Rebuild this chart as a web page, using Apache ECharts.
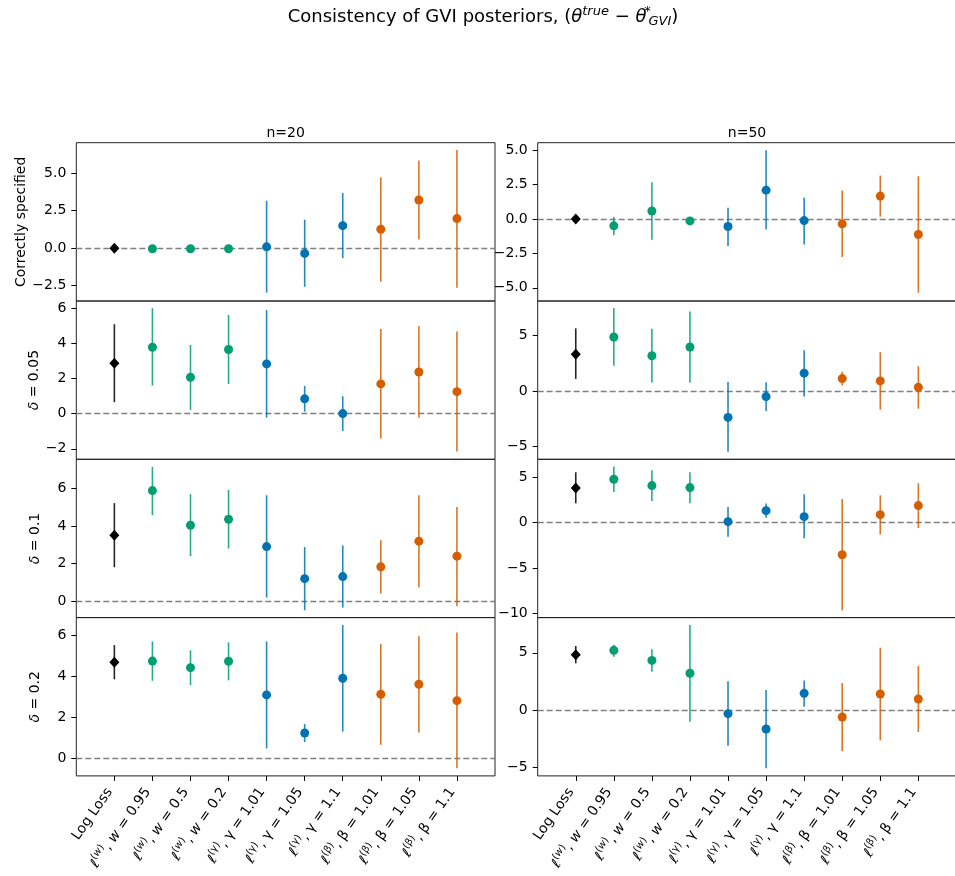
<!DOCTYPE html>
<html><head><meta charset="utf-8">
<script src="https://cdn.jsdelivr.net/npm/echarts@6/dist/echarts.min.js"></script>
<style>html,body{margin:0;padding:0;background:#fff}#c{width:955px;height:876px}</style>
</head><body><div id="c"></div>
<script>
// ---------------- data ----------------
const categories = ['Log Loss','ℓ(w), w = 0.95','ℓ(w), w = 0.5','ℓ(w), w = 0.2','ℓ(γ), γ = 1.01','ℓ(γ), γ = 1.05','ℓ(γ), γ = 1.1','ℓ(β), β = 1.01','ℓ(β), β = 1.05','ℓ(β), β = 1.1'];
const lossFamily = ['log','w','w','w','γ','γ','γ','β','β','β'];
const hyperParam = ['','0.95','0.5','0.2','1.01','1.05','1.1','1.01','1.05','1.1'];
const columnTitles = ['n=20','n=50'];
const rowLabels = ['Correctly specified','δ = 0.05','δ = 0.1','δ = 0.2'];

const n20_correct_est = [0.00,-0.04,-0.04,-0.04, 0.09,-0.35, 1.50, 1.26, 3.21, 1.97];
const n20_correct_lo  = [-0.05,-0.10,-0.10,-0.10,-2.96,-2.57,-0.66,-2.23, 0.58,-2.63];
const n20_correct_hi  = [0.05, 0.02, 0.02, 0.02, 3.16, 1.90, 3.67, 4.73, 5.84, 6.55];

const n50_correct_est = [0.00,-0.50, 0.58,-0.14,-0.55, 2.09,-0.12,-0.36, 1.66,-1.13];
const n50_correct_lo  = [-0.05,-1.18,-1.51,-0.22,-1.97,-0.77,-1.85,-2.76, 0.17,-5.36];
const n50_correct_hi  = [0.05, 0.14, 2.67,-0.06, 0.82, 5.00, 1.54, 2.07, 3.15, 3.10];

const n20_d005_est = [2.87, 3.78, 2.07, 3.65, 2.83, 0.84, 0.00, 1.69, 2.37, 1.25];
const n20_d005_lo  = [0.65, 1.59, 0.21, 1.69,-0.23, 0.11,-0.99,-1.42,-0.23,-2.16];
const n20_d005_hi  = [5.09, 6.00, 3.91, 5.62, 5.89, 1.58, 0.99, 4.82, 4.99, 4.67];

const n50_d005_est = [3.31, 4.85, 3.16, 3.95,-2.38,-0.51, 1.60, 1.11, 0.90, 0.33];
const n50_d005_lo  = [1.08, 2.26, 0.75, 0.75,-5.48,-1.81,-0.51, 0.48,-1.69,-1.60];
const n50_d005_hi  = [5.63, 7.47, 5.60, 7.14, 0.81, 0.78, 3.67, 1.72, 3.49, 2.23];

const n20_d01_est = [3.51, 5.89, 4.04, 4.36, 2.90, 1.19, 1.30, 1.82, 3.19, 2.39];
const n20_d01_lo  = [1.80, 4.58, 2.39, 2.80, 0.18,-0.50,-0.36, 0.39, 0.73,-0.27];
const n20_d01_hi  = [5.22, 7.16, 5.70, 5.93, 5.64, 2.88, 2.96, 3.24, 5.64, 5.02];

const n50_d01_est = [3.82, 4.78, 4.08, 3.86, 0.11, 1.32, 0.66,-3.53, 0.88, 1.88];
const n50_d01_lo  = [2.13, 3.38, 2.39, 2.13,-1.54, 0.55,-1.73,-9.67,-1.29,-0.59];
const n50_d01_hi  = [5.55, 6.18, 5.77, 5.55, 1.73, 2.10, 3.13, 2.61, 3.01, 4.34];

const n20_d02_est = [4.70, 4.76, 4.44, 4.75, 3.11, 1.25, 3.92, 3.14, 3.63, 2.83];
const n20_d02_lo  = [3.87, 3.80, 3.59, 3.82, 0.50, 0.81, 1.32, 0.68, 1.28,-0.47];
const n20_d02_hi  = [5.54, 5.71, 5.28, 5.67, 5.72, 1.69, 6.52, 5.59, 5.97, 6.15];

const n50_d02_est = [4.84, 5.22, 4.34, 3.21,-0.32,-1.66, 1.46,-0.61, 1.40, 0.96];
const n50_d02_lo  = [4.08, 4.66, 3.35,-1.02,-3.12,-5.10, 0.29,-3.59,-2.65,-1.92];
const n50_d02_hi  = [5.60, 5.71, 5.31, 7.43, 2.51, 1.75, 2.59, 2.36, 5.45, 3.85];

// y ticks and limits per panel [row][col]
const yTicks = [
  [[-2.5,0,2.5,5],[-5,-2.5,0,2.5,5]],
  [[-2,0,2,4,6],[-5,0,5]],
  [[0,2,4,6],[-10,-5,0,5]],
  [[0,2,4,6],[-5,0,5]]
];
const yLimits = [
  [[-3.52,7.03],[-5.96,5.54]],
  [[-2.60,6.41],[-6.15,8.09]],
  [[-0.89,7.56],[-10.46,6.98]],
  [[-0.84,6.88],[-5.76,8.08]]
];
const xLimits = [-1, 10];

const panelData = [
  [[n20_correct_est,n20_correct_lo,n20_correct_hi],[n50_correct_est,n50_correct_lo,n50_correct_hi]],
  [[n20_d005_est,n20_d005_lo,n20_d005_hi],[n50_d005_est,n50_d005_lo,n50_d005_hi]],
  [[n20_d01_est,n20_d01_lo,n20_d01_hi],[n50_d01_est,n50_d01_lo,n50_d01_hi]],
  [[n20_d02_est,n20_d02_lo,n20_d02_hi],[n50_d02_est,n50_d02_lo,n50_d02_hi]]
];

// ---------------- layout & style ----------------
const FONT = "'DejaVu Sans', sans-serif";
const COLORS = {log:'#000000', w:'#029E73', 'γ':'#0173B2', 'β':'#D55E00'};
const GL = [76.3, 537.7], GW = 418.7, GT = 142.7, GH = 158.3;

function tickFmt(ticks){
  const dec = ticks.some(t => !Number.isInteger(t)) ? 1 : 0;
  return v => (v < -1e-9 ? '\u2212' : '') + Math.abs(v).toFixed(dec);
}
function catLabel(v){
  const i = Math.round(v);
  if (Math.abs(v - i) > 1e-6 || i < 0 || i >= categories.length) return '';
  const f = lossFamily[i];
  if (f === 'log') return '{n|' + categories[i] + '}';
  const sf = (f === 'w') ? '{si|w}' : '{sp|' + f + '}';
  const mf = (f === 'w') ? '{i|w}' : '{n|' + f + '}';
  return '{n|ℓ}{sp|(}' + sf + '{sp|)}{n|, }' + mf + '{n| = ' + hyperParam[i] + '}';
}
function rowName(s){
  return s.charAt(0) === 'δ' ? '{i|δ}{n|' + s.slice(1) + '}' : '{n|' + s + '}';
}
const xRich = {
  n:{fontSize:14,fontFamily:FONT,color:'#000'},
  i:{fontSize:14,fontFamily:FONT,fontStyle:'italic',color:'#000'},
  sp:{fontSize:10,fontFamily:FONT,color:'#000',padding:[0,0,10,0]},
  si:{fontSize:10,fontFamily:FONT,fontStyle:'italic',color:'#000',padding:[0,0,10,0]}
};

const grids=[], xAxes=[], yAxes=[], series=[];
const catIdx = categories.map((c,i)=>i);
for (let r=0;r<4;r++){
  for (let c=0;c<2;c++){
    const k = grids.length;
    const [est, lo, hi] = panelData[r][c];
    grids.push({left:GL[c], top:GT + r*GH, width:GW, height:GH, show:true,
      borderColor:'#222', borderWidth:1, backgroundColor:'rgba(0,0,0,0)', containLabel:false, outerBoundsMode:'none'});
    xAxes.push({gridIndex:k, type:'value', min:xLimits[0], max:xLimits[1], position:'bottom',
      axisLine:{show:false, onZero:false}, splitLine:{show:false},
      axisTick:{show:r===3, customValues:catIdx, length:5, lineStyle:{color:'#000', width:1}},
      axisLabel:{show:r===3, customValues:catIdx, rotate:55, margin:7, padding:[0,8,0,0], formatter:catLabel, rich:xRich, fontSize:14, fontFamily:FONT, color:'#000'}});
    const yA = {gridIndex:k, type:'value', min:yLimits[r][c][0], max:yLimits[r][c][1], position:'left',
      axisLine:{show:false, onZero:false}, splitLine:{show:false},
      axisTick:{show:true, customValues:yTicks[r][c], length:5, lineStyle:{color:'#000', width:1}},
      axisLabel:{customValues:yTicks[r][c], formatter:tickFmt(yTicks[r][c]), margin:10, fontSize:14, fontFamily:FONT, color:'#000'}};
    if (c===0){
      yA.name = rowName(rowLabels[r]);
      yA.nameLocation = 'middle';
      yA.nameRotate = 90;
      yA.nameGap = r===0 ? 48 : 34;
      yA.nameTextStyle = {fontSize:14, fontFamily:FONT, color:'#000', rich:{
        n:{fontSize:14,fontFamily:FONT,color:'#000'},
        i:{fontSize:14,fontFamily:FONT,fontStyle:'italic',color:'#000'}}};
    }
    yAxes.push(yA);
    // error bars
    series.push({type:'custom', xAxisIndex:k, yAxisIndex:k, z:2, silent:true,
      data: catIdx.map(i => [i, lo[i], hi[i]]),
      renderItem:(params, api) => {
        const x = api.value(0);
        const p1 = api.coord([x, api.value(1)]);
        const p2 = api.coord([x, api.value(2)]);
        return {type:'line', shape:{x1:p1[0],y1:p1[1],x2:p2[0],y2:p2[1]},
          style:{stroke:COLORS[lossFamily[params.dataIndex]], lineWidth:1.6, opacity:0.85}};
      },
      markLine:{silent:true, z:1, symbol:['none','none'], label:{show:false},
        lineStyle:{color:'#808080', type:[6,3], width:1.3}, data:[{yAxis:0}]}
    });
    // points
    series.push({type:'scatter', xAxisIndex:k, yAxisIndex:k, z:3, silent:true,
      data: catIdx.map(i => ({value:[i, est[i]],
        symbol: lossFamily[i]==='log' ? 'diamond' : 'circle',
        symbolSize: lossFamily[i]==='log' ? [10,11] : 9,
        itemStyle:{color:COLORS[lossFamily[i]], opacity:1}}))
    });
  }
}

const titleText = '{t|Consistency of GVI posteriors, (}{ti|θ}{tsup|true}{t| − }{ti|θ}{tst|*}{tsub|GVI}{t|)}';
const graphic = [
  {type:'text', x:483, y:17, style:{text:titleText, align:'center', verticalAlign:'middle', fontSize:18, fontFamily:FONT, fill:'#000',
    rich:{
      t:{fontSize:18,fontFamily:FONT,fill:'#000'},
      ti:{fontSize:18,fontFamily:FONT,fontStyle:'italic',fill:'#000'},
      tsup:{fontSize:13,fontFamily:FONT,fontStyle:'italic',fill:'#000',padding:[0,0,11,0]},
      tst:{fontSize:13,fontFamily:FONT,fill:'#000',padding:[0,0,11,0],width:2},
      tsub:{fontSize:13,fontFamily:FONT,fontStyle:'italic',fill:'#000',padding:[9,0,0,0]}
    }}},
  {type:'text', x:GL[0]+GW/2, y:133, style:{text:columnTitles[0], align:'center', verticalAlign:'middle', fontSize:14, fontFamily:FONT, fill:'#000'}},
  {type:'text', x:GL[1]+GW/2, y:133, style:{text:columnTitles[1], align:'center', verticalAlign:'middle', fontSize:14, fontFamily:FONT, fill:'#000'}}
];

const chart = echarts.init(document.getElementById('c'), null, {renderer:'canvas'});
chart.setOption({animation:false, backgroundColor:'#fff', textStyle:{fontFamily:FONT},
  grid:grids, xAxis:xAxes, yAxis:yAxes, series:series, graphic:graphic});
</script></body></html>
